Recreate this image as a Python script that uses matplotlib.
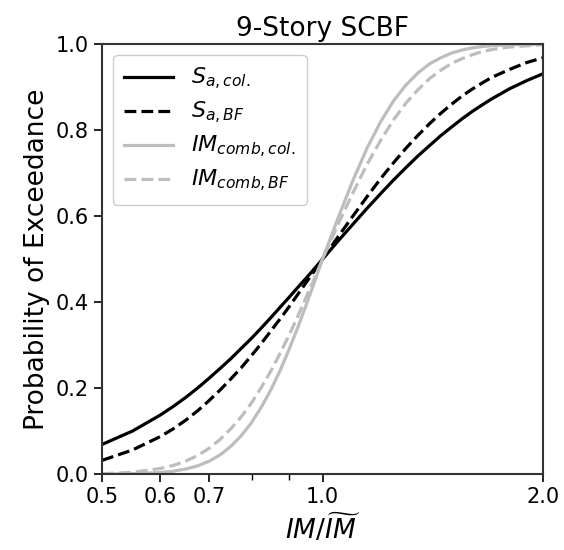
import numpy as np
import matplotlib
matplotlib.use("Agg")
import matplotlib.pyplot as plt

# IM / median IM
ratio = [0.5, 0.55, 0.6, 0.625, 0.65, 0.675, 0.7, 0.725, 0.75, 0.775, 0.8, 0.825,
         0.85, 0.875, 0.9, 0.925, 0.95, 0.975, 1.0, 1.05, 1.1, 1.15, 1.2, 1.25,
         1.3, 1.35, 1.4, 1.45, 1.5, 1.55, 1.6, 1.65, 1.7, 1.8, 1.9, 2.0]

# probability of exceedance
sa_col = [0.069, 0.100, 0.137, 0.157, 0.178, 0.200, 0.223, 0.246, 0.269, 0.293, 0.316, 0.340,
          0.364, 0.388, 0.411, 0.434, 0.456, 0.478, 0.500, 0.542, 0.581, 0.618, 0.652, 0.684,
          0.713, 0.740, 0.764, 0.787, 0.807, 0.826, 0.843, 0.858, 0.872, 0.896, 0.915, 0.931]
sa_bf = [0.032, 0.056, 0.087, 0.105, 0.125, 0.147, 0.171, 0.196, 0.222, 0.248, 0.276, 0.304,
         0.333, 0.361, 0.389, 0.418, 0.446, 0.473, 0.500, 0.552, 0.600, 0.645, 0.687, 0.724,
         0.758, 0.788, 0.815, 0.839, 0.860, 0.879, 0.895, 0.909, 0.922, 0.941, 0.957, 0.968]
comb_col = [0.0001, 0.0008, 0.0036, 0.0067, 0.0117, 0.019, 0.030, 0.045, 0.065, 0.090, 0.120, 0.156,
            0.196, 0.241, 0.290, 0.341, 0.394, 0.447, 0.500, 0.596, 0.683, 0.758, 0.819, 0.868,
            0.905, 0.933, 0.954, 0.968, 0.979, 0.986, 0.991, 0.994, 0.996, 0.998, 0.999, 1.000]
comb_bf = [0.001, 0.004, 0.013, 0.020, 0.030, 0.043, 0.060, 0.081, 0.106, 0.134, 0.166, 0.202,
           0.240, 0.281, 0.323, 0.367, 0.412, 0.456, 0.500, 0.581, 0.654, 0.720, 0.776, 0.824,
           0.863, 0.894, 0.920, 0.939, 0.955, 0.966, 0.975, 0.982, 0.987, 0.993, 0.996, 0.998]

gray = "#bdbdbd"

fig = plt.figure(figsize=(5.64, 5.5), dpi=100)
ax = fig.add_axes([0.181, 0.138, 0.782, 0.782])

ax.plot(ratio, sa_col, color="black", lw=2.3, label=r"$S_{a,col.}$")
ax.plot(ratio, sa_bf, color="black", lw=2.3, ls="--", label=r"$S_{a,BF}$")
ax.plot(ratio, comb_col, color=gray, lw=2.3, label=r"$IM_{comb,col.}$")
ax.plot(ratio, comb_bf, color=gray, lw=2.3, ls="--", label=r"$IM_{comb,BF}$")

ax.set_xscale("log")
ax.set_xlim(0.5, 2.0)
ax.set_ylim(0, 1.0)
ax.set_xticks([0.5, 0.6, 0.7, 1.0, 2.0])
ax.set_xticklabels(["0.5", "0.6", "0.7", "1.0", "2.0"])
ax.set_xticks([0.8, 0.9], minor=True)
ax.set_xticklabels([], minor=True)
ax.set_yticks([0, 0.2, 0.4, 0.6, 0.8, 1.0])
ax.set_yticklabels(["0.0", "0.2", "0.4", "0.6", "0.8", "1.0"])
ax.tick_params(labelsize=15, width=1.2, length=6)
ax.tick_params(which="minor", length=4, width=1.0)
for s in ax.spines.values():
    s.set_linewidth(1.5)
    s.set_color("#333333")

ax.set_title("9-Story SCBF", fontsize=19)
ax.set_ylabel("Probability of Exceedance", fontsize=19)
ax.set_xlabel(r"$IM/\widetilde{IM}$", fontsize=19)

ax.legend(loc="upper left", fontsize=16, handlelength=2.2, labelspacing=0.35,
          borderpad=0.5, framealpha=1.0)

plt.savefig("out.png", dpi=100)
plt.close()
